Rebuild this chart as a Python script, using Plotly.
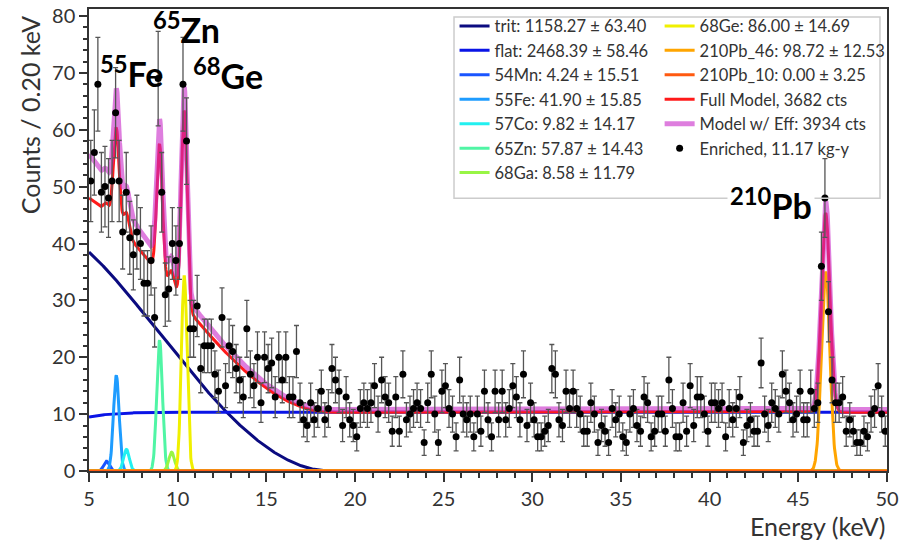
import numpy as np
import plotly.graph_objects as go

# ---------------- data ----------------
bin_width = 0.2
energy_lo, energy_hi = 5.0, 50.0
exposure = 11.17

counts = [
    51, 56, 68, 49, 50, 48, 51, 63, 51, 42,
    49, 41, 38, 42, 40, 33, 33, 37, 27, 69,
    49, 31, 32, 40, 37, 40, 68, 58, 25, 25,
    29, 18, 22, 22, 22, 17, 14, 27, 15, 22,
    21, 18, 16, 13, 25, 17, 15, 20, 12, 20,
    18, 19, 13, 20, 16, 20, 13, 13, 21, 12,
    9, 8, 12, 9, 11, 14, 9, 11, 18, 16,
    14, 8, 13, 9, 8, 6, 11, 12, 11, 12,
    15, 10, 16, 13, 12, 7, 13, 7, 17, 9,
    10, 11, 12, 11, 5, 12, 17, 10, 5, 14,
    15, 11, 10, 6, 16, 10, 9, 10, 6, 10,
    7, 14, 9, 6, 14, 9, 14, 9, 11, 15,
    13, 9, 17, 8, 12, 9, 6, 6, 7, 8,
    18, 17, 9, 8, 14, 11, 14, 11, 10, 7,
    7, 12, 10, 5, 8, 7, 5, 11, 9, 10,
    6, 5, 10, 11, 8, 7, 13, 12, 6, 7,
    10, 10, 7, 16, 11, 6, 6, 12, 7, 15,
    8, 13, 13, 10, 7, 12, 12, 11, 12, 6,
    11, 9, 11, 13, 5, 8, 9, 7, 7, 19,
    10, 8, 12, 11, 10, 17, 14, 12, 9, 10,
    14, 9, 9, 14, 11, 12, 36, 48, 28, 16,
    12, 12, 13, 7, 9, 7, 5, 5, 7, 6,
    10, 11, 15, 10, 7,
]

comp_names = ["trit", "flat", "54Mn", "55Fe", "57Co", "65Zn", "68Ga",
              "68Ge", "210Pb_46", "210Pb_10"]
comp_counts = [1158.27, 2468.39, 4.24, 41.90, 9.82, 57.87, 8.58, 86.00, 98.72, 0.00]
comp_errors = [63.40, 58.46, 15.51, 15.85, 14.17, 14.43, 11.79, 14.69, 12.53, 3.25]
comp_colors = ["#0b0b80", "#0a14e6", "#1a55ff", "#1e9cff", "#22f0f0",
               "#50f5a5", "#98f545", "#f0f000", "#ffa500", "#ff5a10"]

# peak components (Gaussian fit results)
peak_names = ["54Mn", "55Fe", "57Co", "65Zn", "68Ga", "68Ge", "210Pb_46", "210Pb_10"]
peak_energy = [5.99, 6.54, 7.11, 8.98, 9.66, 10.37, 46.54, 10.80]
peak_height = [1.7, 16.8, 3.8, 23.0, 3.3, 34.2, 35.0, 0.0]
peak_sigma = [0.16, 0.16, 0.16, 0.16, 0.16, 0.16, 0.24, 0.16]

# continuum components
trit_value_at_lo = 38.5
trit_endpoint = 18.6
flat_level = 10.35
flat_dip, flat_scale = 0.082, 1.33
eff_max, eff_dip, eff_scale = 0.957, 0.10, 3.2

full_model_cts = 3682
eff_model_cts = 3934

# ---------------- model curves ----------------
E = np.linspace(energy_lo, energy_hi, 2251)
centers = energy_lo + bin_width * (np.arange(len(counts)) + 0.5)
assert len(counts) == 225


def beta_shape(T):
    me, alpha = 511.0, 1 / 137.036
    Et = T + me
    p = np.sqrt(Et ** 2 - me ** 2)
    beta = p / Et
    x = 2 * np.pi * 2 * alpha / beta
    F = x / (1 - np.exp(-x))
    return F * p * Et * np.clip(trit_endpoint - T, 0, None) ** 2


trit = trit_value_at_lo * beta_shape(E) / beta_shape(np.array([energy_lo]))[0]
flat = flat_level * (1 - flat_dip * np.exp(-(E - energy_lo) / flat_scale))
comp_curves = {"trit": trit, "flat": flat}
for n, mu, h, s in zip(peak_names, peak_energy, peak_height, peak_sigma):
    comp_curves[n] = h * np.exp(-0.5 * ((E - mu) / s) ** 2)

full_model = sum(comp_curves[n] for n in comp_names)
eff = eff_max * (1 - eff_dip * np.exp(-(E - energy_lo) / eff_scale))
eff_model = full_model / eff

# ---------------- figure ----------------
fig = go.Figure()
legend_font = dict(family="Lato", size=16.5, color="#333333")

for i, (n, c, cnt, err) in enumerate(zip(comp_names, comp_colors, comp_counts, comp_errors)):
    fig.add_trace(go.Scatter(
        x=E, y=comp_curves[n], mode="lines",
        line=dict(color=c, width=3),
        name=f"{n}: {cnt:.2f} ± {err:.2f}",
        legend="legend" if i < 7 else "legend2",
        legendrank=i + 1,
    ))

fig.add_trace(go.Scatter(
    x=E, y=full_model, mode="lines", line=dict(color="#ff1a1a", width=3),
    name=f"Full Model, {full_model_cts} cts", legend="legend2", legendrank=20,
))
fig.add_trace(go.Scatter(
    x=E, y=eff_model, mode="lines", line=dict(color="rgba(200,40,200,0.6)", width=5),
    name=f"Model w/ Eff: {eff_model_cts} cts", legend="legend2", legendrank=21,
))
fig.add_trace(go.Scatter(
    x=centers, y=counts, mode="markers",
    marker=dict(color="black", size=7),
    error_y=dict(type="data", array=np.sqrt(counts), color="#555555",
                 thickness=1.3, width=2.5),
    name=f"Enriched, {exposure:.2f} kg-y", legend="legend2", legendrank=22,
))

axis_common = dict(
    showline=True, linecolor="#333333", linewidth=1.5, mirror=True,
    ticks="outside", tickcolor="#333333", tickwidth=1.5,
    showgrid=False, zeroline=False, automargin=False,
    tickfont=dict(family="Lato", size=20, color="#333333"),
)
fig.update_xaxes(range=[energy_lo, energy_hi], dtick=5, ticklen=9,
                 minor=dict(dtick=1, ticklen=5, tickcolor="#333333", ticks="outside"),
                 **axis_common)
fig.update_yaxes(range=[0, 81.23], dtick=10, ticklen=8,
                 minor=dict(dtick=2, ticklen=4, tickcolor="#333333", ticks="outside"),
                 **axis_common)

ann_font = dict(family="Lato", size=34, color="black")
annotations = [
    dict(x=5.51, y=66.0, text="<b><sup>55</sup>Fe</b>"),
    dict(x=8.50, y=73.6, text="<b><sup>65</sup>Zn</b>"),
    dict(x=10.75, y=65.6, text="<b><sup>68</sup>Ge</b>"),
]
for a in annotations:
    fig.add_annotation(xref="x", yref="y", xanchor="left", yanchor="bottom",
                       showarrow=False, font=ann_font, **a)
fig.add_annotation(xref="x", yref="y", x=40.96, y=42.6, xanchor="left", yanchor="bottom",
                   text="<b><sup>210</sup>Pb</b>", showarrow=False, font=ann_font,
                   bgcolor="white", borderpad=2)

fig.add_annotation(xref="paper", yref="paper", x=-0.074, y=0.77, textangle=-90,
                   text=f"Counts / {bin_width:.2f} keV", showarrow=False,
                   xanchor="center", yanchor="middle",
                   font=dict(family="Lato", size=25, color="#333333"))
fig.add_annotation(xref="paper", yref="paper", x=1.0, y=-0.1199,
                   text="Energy (keV)", showarrow=False, xanchor="right", yanchor="middle",
                   font=dict(family="Lato", size=25, color="#333333"))

fig.add_shape(type="rect", xref="paper", yref="paper",
              x0=0.4574, x1=0.9912, y0=0.5906, y1=0.9827,
              line=dict(color="#cccccc", width=1.5), layer="above")

fig.update_layout(
    width=901, height=542,
    margin=dict(l=89, r=14, t=9, b=71, autoexpand=False),
    plot_bgcolor="white", paper_bgcolor="white",
    legend=dict(xref="container", yref="container", x=0.5045, y=0.984,
                xanchor="left", yanchor="top",
                bgcolor="rgba(0,0,0,0)", font=legend_font, itemwidth=30,
                tracegroupgap=0),
    legend2=dict(xref="container", yref="container", x=0.7321, y=0.984,
                 xanchor="left", yanchor="top",
                 bgcolor="rgba(0,0,0,0)", font=legend_font, itemwidth=30,
                 tracegroupgap=0),
)

fig.write_html("out.html", config={"displayModeBar": False},
               post_script="document.body.style.margin='0px';")
